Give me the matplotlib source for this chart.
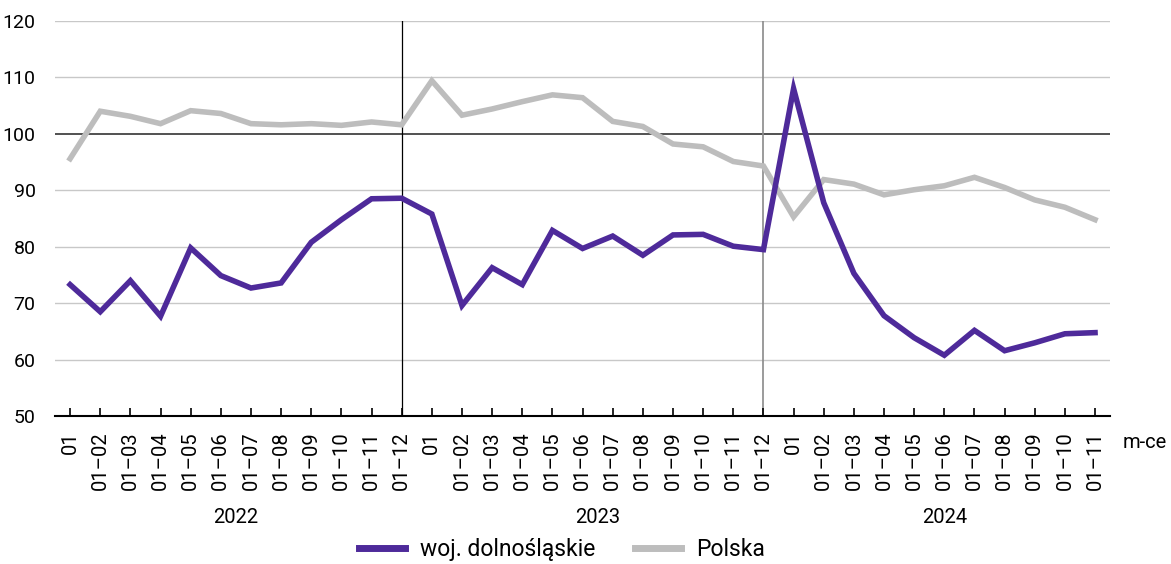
import matplotlib
matplotlib.use("Agg")
import matplotlib.pyplot as plt
from matplotlib.lines import Line2D

plt.rcParams['font.family'] = ['Roboto', 'DejaVu Sans']

years = ["2022", "2023", "2024"]
months_per_year = [12, 12, 11]
tick_labels = []
for n in months_per_year:
    for m in range(1, n + 1):
        tick_labels.append("01" if m == 1 else f"01\u2013{m:02d}")

dolnoslaskie = [73.3, 68.5, 74.0, 67.7, 79.8, 74.9, 72.7, 73.6, 80.8, 84.8, 88.5, 88.6,
                85.8, 69.6, 76.3, 73.3, 82.9, 79.7, 81.9, 78.5, 82.1, 82.2, 80.1, 79.5,
                108.0, 87.8, 75.3, 67.8, 63.9, 60.8, 65.2, 61.6, 63.0, 64.6, 64.8]
polska = [95.6, 104.0, 103.1, 101.8, 104.1, 103.6, 101.8, 101.6, 101.8, 101.5, 102.1, 101.6,
          109.4, 103.3, 104.4, 105.7, 106.9, 106.4, 102.2, 101.3, 98.2, 97.7, 95.1, 94.3,
          85.3, 91.9, 91.1, 89.2, 90.1, 90.8, 92.3, 90.5, 88.3, 87.0, 84.8]

purple = "#4e2a9a"
gray = "#bdbdbd"

fig = plt.figure(figsize=(11.71, 5.64), dpi=100)
ax = fig.add_axes([0.047, 0.262, 0.901, 0.701])

x = list(range(len(dolnoslaskie)))
ax.set_xlim(-0.5, len(x) - 0.5)
ax.set_ylim(50, 120)

for v in range(60, 121, 10):
    if v == 100:
        ax.axhline(v, color="#222222", lw=1.1, zorder=1)
    else:
        ax.axhline(v, color="#c8c8c8", lw=1.0, zorder=1)

ax.axvline(11, color="black", lw=0.9, zorder=1)
ax.axvline(23, color="#8a8a8a", lw=1.2, zorder=1)

ax.plot(x, polska, color=gray, lw=4.0, solid_joinstyle="miter", zorder=3)
ax.plot(x, dolnoslaskie, color=purple, lw=4.0, solid_joinstyle="miter", zorder=4)

for s in ["left", "right", "top"]:
    ax.spines[s].set_visible(False)
ax.spines["bottom"].set_color("black")
ax.spines["bottom"].set_linewidth(1.5)

ax.set_yticks(range(50, 121, 10))
ax.tick_params(axis="y", length=0, pad=14, labelsize=14)
ax.set_xticks(x)
ax.set_xticklabels(tick_labels, rotation=90, fontsize=14.5)
ax.tick_params(axis="x", direction="in", length=6, width=1.2, pad=11)

# year labels
start = 0
for yr, n in zip(years, months_per_year):
    center = start + (n - 1) / 2
    ax.text(center, -0.255, yr, transform=ax.get_xaxis_transform(), ha="center", va="center",
            fontsize=14.5)
    start += n

ax.text(1.012, -0.066, "m-ce", transform=ax.transAxes, ha="left", va="center", fontsize=14.5)

handles = [Line2D([], [], color=purple, lw=5), Line2D([], [], color=gray, lw=5)]
fig.legend(handles, ["woj. dolnośląskie", "Polska"], loc="center", bbox_to_anchor=(0.48, 0.025),
           ncol=2, frameon=False, fontsize=16.5, handlelength=2.0, handletextpad=0.65,
           columnspacing=1.75)

fig.savefig("out.png", dpi=100)
